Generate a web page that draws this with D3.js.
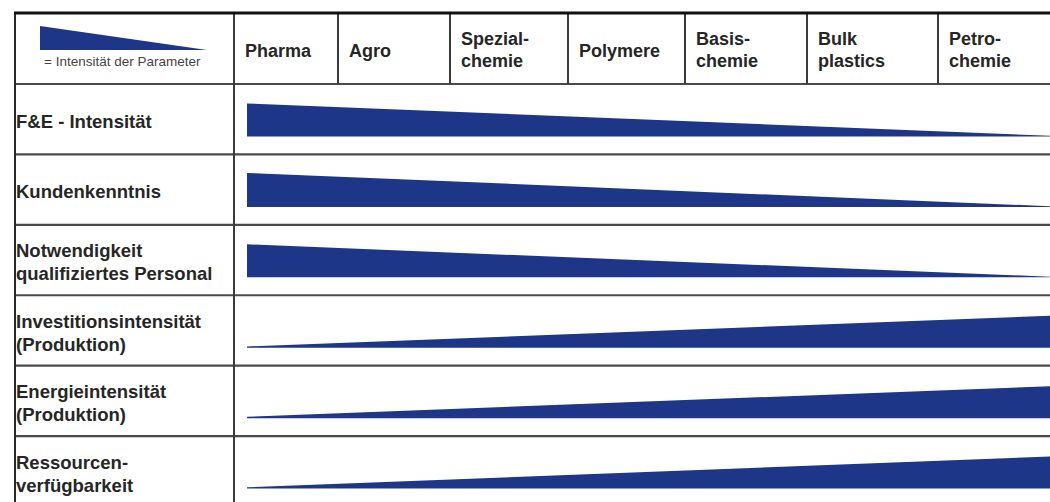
<!DOCTYPE html>
<html>
<head>
<meta charset="utf-8">
<script src="https://cdn.jsdelivr.net/npm/d3@7"></script>
<style>
  html, body { margin: 0; padding: 0; background: #ffffff; }
  svg { display: block; }
  text { font-family: "Liberation Sans", Arial, Helvetica, sans-serif; }
</style>
</head>
<body>
<svg id="chart" width="1050" height="502"></svg>
<script>
// ---------------- data ----------------
const categories = ["Pharma", "Agro", "Spezial-\nchemie", "Polymere", "Basis-\nchemie", "Bulk\nplastics", "Petro-\nchemie"];
const parameters = [
  "F&E - Intensität",
  "Kundenkenntnis",
  "Notwendigkeit\nqualifiziertes Personal",
  "Investitionsintensität\n(Produktion)",
  "Energieintensität\n(Produktion)",
  "Ressourcen-\nverfügbarkeit"
];
// relative intensity at the Pharma end and at the Petrochemie end of the spectrum
const intensityPharmaEnd = [1.0, 1.03, 1.0, 0.04, 0.04, 0.04];
const intensityPetroEnd  = [0.02, 0.02, 0.02, 0.97, 0.97, 0.97];
const legendLabel = "= Intensität der Parameter";
const legendIntensity = [1.0, 0.0];

// ---------------- layout ----------------
const W = 1050, H = 502;
const tableLeft = 15, tableTop = 13, headerBottom = 84, tableBottom = 506.5;
const labelColRight = 234;
const colEdges = [234, 338, 450, 568, 685, 807, 938];
const wedgeColor = "#1d3688";
const textColor = "#262626";

const svg = d3.select("#chart");

const xCol = d3.scaleOrdinal().domain(categories).range(colEdges);
const yRow = d3.scaleBand().domain(parameters).range([headerBottom, tableBottom]);
// position along the industry spectrum (0 = Pharma side, 1 = Petrochemie side)
const xSpan = d3.scaleLinear().domain([0, 1]).range([labelColRight + 13, W]);
const hScale = d3.scaleLinear().domain([0, 1]).range([0, 33]);

// ---------------- wedges ----------------
const wedgeG = svg.append("g");
parameters.forEach((p, i) => {
  const base = yRow(p) + 52.5;
  const pts = [{t: 0, v: intensityPharmaEnd[i]}, {t: 1, v: intensityPetroEnd[i]}];
  const area = d3.area()
    .x(d => xSpan(d.t))
    .y0(base)
    .y1(d => base - hScale(d.v));
  wedgeG.append("path").attr("d", area(pts)).attr("fill", wedgeColor);
});

// legend wedge
const xLeg = d3.scaleLinear().domain([0, 1]).range([40, 207]);
const hLeg = d3.scaleLinear().domain([0, 1]).range([0, 24]);
const legArea = d3.area()
  .x((d, i) => xLeg(i / (legendIntensity.length - 1)))
  .y0(50)
  .y1(d => 50 - hLeg(d));
svg.append("path").attr("d", legArea(legendIntensity)).attr("fill", wedgeColor);
svg.append("text")
  .attr("x", 44).attr("y", 66)
  .attr("font-size", 13.5)
  .attr("fill", "#444")
  .text(legendLabel);

// ---------------- grid lines ----------------
const lines = svg.append("g");
// horizontal row separators
const hLines = [headerBottom].concat(parameters.slice(1).map(p => yRow(p)));
hLines.forEach(y => {
  lines.append("line")
    .attr("x1", tableLeft).attr("x2", W)
    .attr("y1", y).attr("y2", y)
    .attr("stroke", "#4a4a4a").attr("stroke-width", 2.2);
});
// header column dividers
categories.slice(1).forEach(c => {
  lines.append("line")
    .attr("x1", xCol(c)).attr("x2", xCol(c))
    .attr("y1", tableTop).attr("y2", headerBottom)
    .attr("stroke", "#3a3a3a").attr("stroke-width", 2);
});
// label column divider
lines.append("line")
  .attr("x1", labelColRight).attr("x2", labelColRight)
  .attr("y1", tableTop).attr("y2", H)
  .attr("stroke", "#3a3a3a").attr("stroke-width", 2);
// left border
lines.append("line")
  .attr("x1", tableLeft).attr("x2", tableLeft)
  .attr("y1", tableTop).attr("y2", H)
  .attr("stroke", "#2a2a2a").attr("stroke-width", 2);
// top border
lines.append("line")
  .attr("x1", tableLeft - 1).attr("x2", W)
  .attr("y1", tableTop).attr("y2", tableTop)
  .attr("stroke", "#111").attr("stroke-width", 3);

// ---------------- header labels ----------------
categories.forEach(c => {
  const parts = c.split("\n");
  const t = svg.append("text")
    .attr("font-size", 18).attr("font-weight", "bold").attr("fill", textColor);
  if (parts.length === 1) {
    t.append("tspan").attr("x", xCol(c) + 11).attr("y", tableTop + 44).text(parts[0]);
  } else {
    parts.forEach((s, k) => {
      t.append("tspan").attr("x", xCol(c) + 11).attr("y", tableTop + 31.5 + k * 22).text(s);
    });
  }
});

// ---------------- row labels ----------------
parameters.forEach(p => {
  const parts = p.split("\n");
  const top = yRow(p);
  const t = svg.append("text")
    .attr("font-size", 18.5).attr("font-weight", "bold").attr("fill", textColor);
  if (parts.length === 1) {
    t.append("tspan").attr("x", 16).attr("y", top + 43.5).text(parts[0]);
  } else {
    parts.forEach((s, k) => {
      t.append("tspan").attr("x", 16).attr("y", top + 32.5 + k * 23).text(s);
    });
  }
});
</script>
</body>
</html>
